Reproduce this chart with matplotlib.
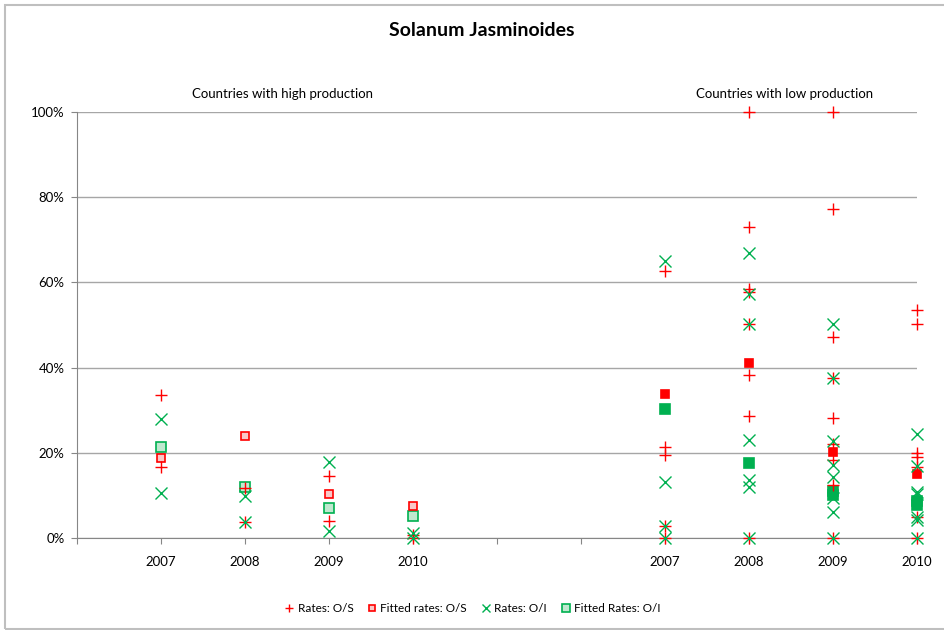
import numpy as np
import matplotlib
matplotlib.use("Agg")
from matplotlib import pyplot as plt
from matplotlib.patches import Rectangle

plt.rcParams['font.family'] = ['Lato', 'DejaVu Sans']

# Slot on the category axis for each year (two empty slots between groups)
years = ['2007', '2008', '2009', '2010']
slot_high = [1, 2, 3, 4]
slot_low = [7, 8, 9, 10]

# Countries with high production, values in %
high_os = [[33.6, 16.7], [11.8, 3.7], [14.6, 4.1], [0.8, 0.0]]
high_fit_os = [[18.8], [24.0], [10.3], [7.5]]
high_oi = [[28.0, 10.6], [9.9, 3.7], [17.8, 1.7], [1.2, 0.0]]
high_fit_oi = [[21.4], [12.0], [7.0], [5.2]]

# Countries with low production, values in %
low_os = [[62.7, 21.3, 19.5, 2.9, 0.0],
          [100.0, 72.9, 58.5, 57.8, 50.2, 38.2, 28.6, 0.0],
          [100.0, 77.2, 47.1, 37.6, 28.2, 22.1, 18.3, 12.4, 0.0],
          [53.5, 50.2, 20.0, 18.9, 16.6, 4.9, 0.0]]
low_fit_os = [[33.7], [41.0], [20.1], [15.1]]
low_oi = [[65.1, 13.1, 2.9, 0.0],
          [66.9, 57.3, 50.2, 23.1, 13.6, 12.0, 0.0],
          [50.2, 37.6, 22.7, 17.1, 14.4, 9.3, 6.2, 0.0],
          [24.5, 17.0, 10.9, 10.3, 4.2, 4.9, 0.0]]
low_fit_oi = [[30.3], [17.7], [11.0, 10.2], [8.7, 7.7]]

red = '#FF0000'
green = '#00B050'


def flatten(slots, groups):
    xs, ys = [], []
    for s, g in zip(slots, groups):
        xs += [s] * len(g)
        ys += [v / 100 for v in g]
    return xs, ys


fig = plt.figure(figsize=(9.45, 6.3), dpi=100)
ax = fig.add_axes([77/945, 1 - 538/630, (917 - 77)/945, (538 - 112)/630])

# Series, each drawn for both groups of countries
x, y = flatten(slot_high + slot_low, high_os + low_os)
ax.plot(x, y, ls='none', marker='+', ms=8, mew=1.0, color=red,
        label='Rates: O/S', zorder=4, clip_on=False)
x, y = flatten(slot_high, high_fit_os)
ax.plot(x, y, ls='none', marker='s', ms=6, mew=1.2, mec=red, mfc='#F8C8C8',
        label='Fitted rates: O/S', zorder=3, clip_on=False)
x, y = flatten(slot_low, low_fit_os)
ax.plot(x, y, ls='none', marker='s', ms=6, mew=1.2, mec=red, mfc=red,
        zorder=3, clip_on=False)
x, y = flatten(slot_high + slot_low, high_oi + low_oi)
ax.plot(x, y, ls='none', marker='x', ms=8, mew=1.0, color=green,
        label='Rates: O/I', zorder=4, clip_on=False)
x, y = flatten(slot_high, high_fit_oi)
ax.plot(x, y, ls='none', marker='s', ms=7.5, mew=1.2, mec=green, mfc='#BFE8CF',
        label='Fitted Rates: O/I', zorder=2, clip_on=False)
x, y = flatten(slot_low, low_fit_oi)
ax.plot(x, y, ls='none', marker='s', ms=7.5, mew=1.2, mec=green, mfc=green,
        zorder=2, clip_on=False)

ax.set_xlim(0, 10)
ax.set_ylim(0, 1.0)
ax.set_xticks(range(11))
ax.set_xticklabels(['', *years, '', '', *years])
ax.set_yticks(np.arange(0, 1.01, 0.2))
ax.set_yticklabels(['%d%%' % v for v in range(0, 101, 20)])
ax.yaxis.grid(True, color='#A6A6A6', lw=1)
ax.set_axisbelow(True)
ax.tick_params(length=4, color='#868686', labelsize=9.5, pad=9)
ax.tick_params(axis='y', pad=5)
for side in ['top', 'right']:
    ax.spines[side].set_visible(False)
for side in ['left', 'bottom']:
    ax.spines[side].set_color('#868686')

fig.text(0.51, 1 - 31/630, 'Solanum Jasminoides', ha='center', va='center',
         fontsize=14, fontweight='bold')
fig.text(283/945, 1 - 94/630, 'Countries with high production',
         ha='center', va='center', fontsize=9.5)
fig.text(785/945, 1 - 94/630, 'Countries with low production',
         ha='center', va='center', fontsize=9.5)

fig.legend(loc='center', bbox_to_anchor=(0.5, 1 - 609/630), ncol=4,
           frameon=False, fontsize=8.5, handlelength=0.8, handletextpad=0.3,
           columnspacing=1.2, markerscale=0.8)

# light chart-area border (right edge lies off the canvas)
fig.patches.append(Rectangle((5/945, 1 - 629/630), 1.1, 624/630,
                             transform=fig.transFigure, fill=False,
                             ec='#BFBFBF', lw=1.5))

plt.savefig('out.png', dpi=100)
